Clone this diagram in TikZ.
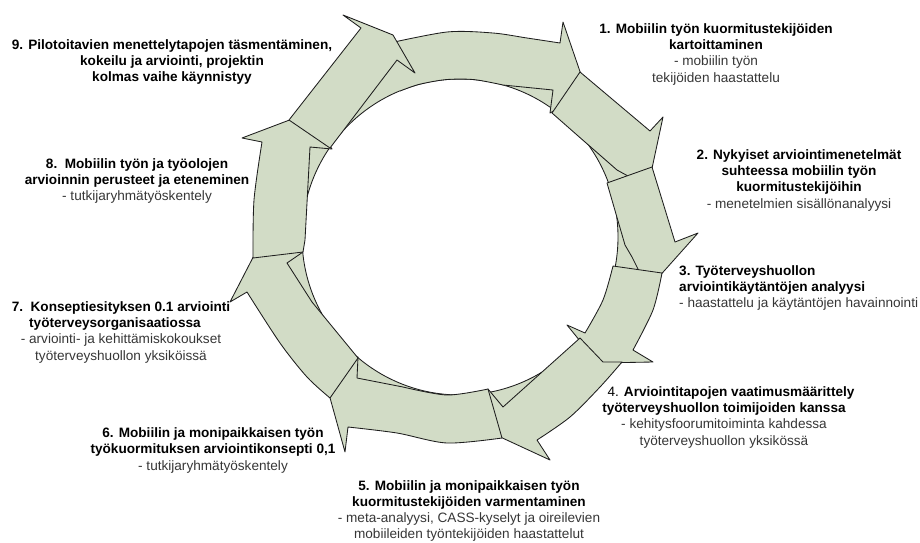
\documentclass[tikz,border=0pt]{standalone}
\usepackage{fontspec}
\setmainfont{Liberation Sans}
\definecolor{fillc}{HTML}{D2DCC6}
\definecolor{linec}{HTML}{1E1E1E}
\definecolor{subc}{HTML}{363636}
\newcommand{\subl}[1]{\textcolor{subc}{#1}}
\begin{document}
\begin{tikzpicture}[x=1pt,y=-1pt,
  arr/.style={fill=fillc, draw=linec, line width=0.85pt, line join=round},
  lbl/.style={inner sep=0pt, font=\fontsize{13.6}{16.4}\selectfont}]
\useasboundingbox (0,0) rectangle (920,542);
% background ring
\fill[fillc, even odd rule] (460,237) circle[radius=190pt] (460,237) circle[radius=158pt];
\draw[linec, line width=0.85pt] (460,237) circle[radius=158pt];
% S1 top arc (tail hidden)
\filldraw[arr] plot[smooth] coordinates {(385,44) (447,32) (493,33) (527,38) (560,43)}
  -- (563,22) -- (587,92) -- (550,113) -- (553,90) -- (503,85)
  -- plot[smooth] coordinates {(503,85) (474,79.6) (446,79.6) (419,84.4) (400,91)};
% S2
\filldraw[arr] (580,72) -- (650,131) -- (663,117) -- (648,187) -- (617,170) -- (577,135) -- (552,113) -- cycle;
% S3
\filldraw[arr] (652,167) -- (675,242) -- (698,233) -- (648,289) -- (632,257) -- (625,245) -- (607,183) -- cycle;
% S4
\filldraw[arr] plot[smooth] coordinates {(662,273) (653,310) (633,350)} -- (653,362) -- (598,363) -- (567,325) -- (585,333)
  -- plot[smooth] coordinates {(585,333) (603,300) (613,266)} -- cycle;
% S5
\filldraw[arr] (580,338) -- (603,362) -- (622,362)
  -- plot[smooth] coordinates {(622,362) (600,387) (570,417) (537,440)}
  -- (550,460) -- (483,429) -- (488,389) -- (503,407) -- cycle;
% S6
\filldraw[arr] plot[smooth] coordinates {(502,438) (447,443) (397,433) (348,427)}
  -- (345,452) -- (324,376) -- (358,357) -- (357,378)
  -- plot[smooth] coordinates {(403,387) (447,395) (488,389)} -- cycle;
% S7
\filldraw[arr] plot[smooth] coordinates {(330,398) (307,377) (280,343) (247,292)}
  -- (230,302) -- (262,240) -- (303,252) -- (287,263) -- (312,302) -- (358,358) -- cycle;
% S8
\filldraw[arr] plot[smooth] coordinates {(253,258) (254,200) (262,142)}
  -- (242,138) -- (308,113) -- (332,149) -- (310,147) -- (305,240) -- (303,252) -- cycle;
% S9
\filldraw[arr] (289,120) -- (361,28) -- (343,15) -- (393,35) -- (415,73) -- (397,60) -- (330,148) -- cycle;
% labels
\node[lbl, anchor=base] (l1) at (716,33) {\begin{tabular}[t]{@{}c@{}}\textbf{1. Mobiilin työn kuormitustekijöiden}\\ \textbf{kartoittaminen}\\ \subl{- mobiilin työn}\\ \subl{tekijöiden haastattelu}\end{tabular}};
\node[lbl, anchor=base] (l2) at (799,159) {\begin{tabular}[t]{@{}c@{}}\textbf{2. Nykyiset arviointimenetelmät}\\ \textbf{suhteessa mobiilin työn}\\ \textbf{kuormitustekijöihin}\\ \subl{- menetelmien sisällönanalyysi}\end{tabular}};
\node[lbl, anchor=base west] (l3) at (679,275) {\begin{tabular}[t]{@{}l@{}}\textbf{3. Työterveyshuollon}\\ \textbf{arviointikäytäntöjen analyysi}\\ \subl{- haastattelu ja käytäntöjen havainnointi}\end{tabular}};
\node[lbl, anchor=base] (l4) at (724,396) {\begin{tabular}[t]{@{}c@{}}\hspace*{14pt}4. \textbf{Arviointitapojen vaatimusmäärittely}\\ \textbf{työterveyshuollon toimijoiden kanssa}\\ \subl{- kehitysfoorumitoiminta kahdessa}\\ \subl{työterveyshuollon yksikössä}\end{tabular}};
\node[lbl, anchor=base, font=\fontsize{13.6}{16.2}\selectfont] (l5) at (469,490) {\begin{tabular}[t]{@{}c@{}}\textbf{5. Mobiilin ja monipaikkaisen työn}\\ \textbf{kuormitustekijöiden varmentaminen}\\ \subl{- meta-analyysi, CASS-kyselyt ja oireilevien}\\ \subl{mobiileiden työntekijöiden haastattelut}\end{tabular}};
\node[lbl, anchor=base] (l6) at (213,437.5) {\begin{tabular}[t]{@{}c@{}}\textbf{6. Mobiilin ja monipaikkaisen työn}\\ \textbf{työkuormituksen arviointikonsepti 0,1}\\ \subl{- tutkijaryhmätyöskentely}\end{tabular}};
\node[lbl, anchor=base] (l7) at (121,311) {\begin{tabular}[t]{@{}c@{}}\textbf{7.~~Konseptiesityksen 0.1 arviointi}\\ \textbf{työterveysorganisaatiossa}\hspace*{12pt}\\ \subl{- arviointi- ja kehittämiskokoukset}\\ \subl{työterveyshuollon yksiköissä}\end{tabular}};
\node[lbl, anchor=base] (l8) at (137,168) {\begin{tabular}[t]{@{}c@{}}\textbf{8.~~Mobiilin työn ja työolojen}\\ \textbf{arvioinnin perusteet ja eteneminen}\\ \subl{- tutkijaryhmätyöskentely}\end{tabular}};
\node[lbl, anchor=base] (l9) at (172,49) {\begin{tabular}[t]{@{}c@{}}\textbf{9. Pilotoitavien menettelytapojen täsmentäminen,}\\ \textbf{kokeilu ja arviointi, projektin}\\ \textbf{kolmas vaihe käynnistyy}\end{tabular}};
\end{tikzpicture}
\end{document}
